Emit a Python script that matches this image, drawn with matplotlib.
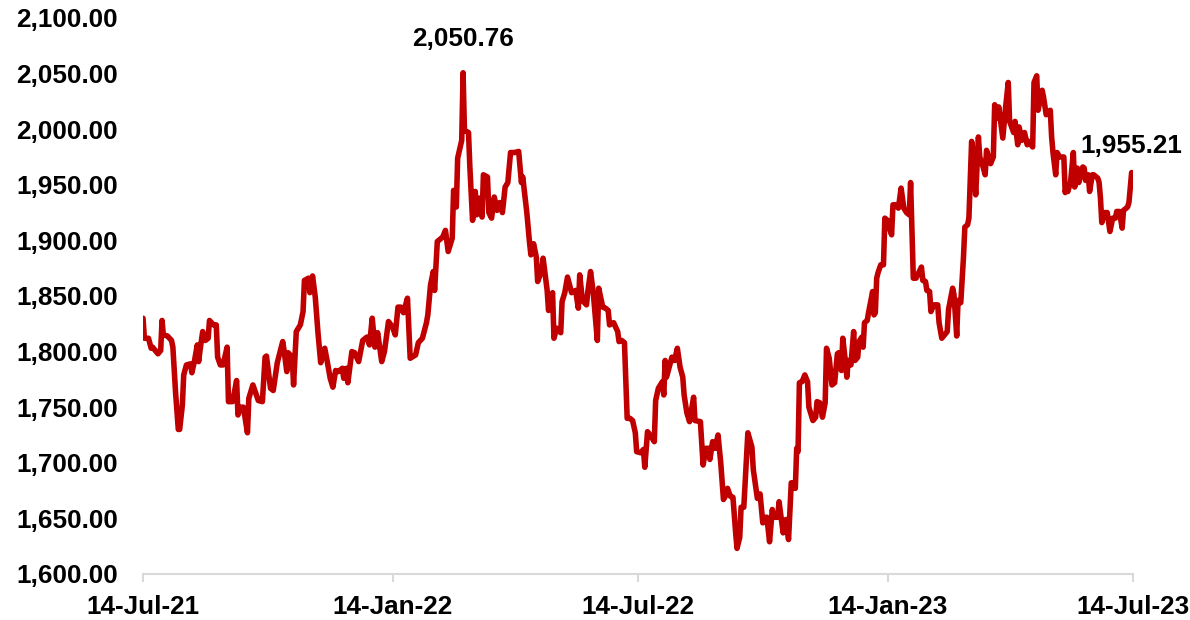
import numpy as np
import matplotlib.pyplot as plt
import matplotlib.dates as mdates

plt.rcParams['font.family'] = ['Liberation Sans', 'DejaVu Sans']

START = np.datetime64('2021-07-14')

# days since 14-Jul-21 and the gold price (USD/oz) on that day
days = [
    0, 1, 4, 6, 7, 11, 13, 14, 15, 18, 21, 22, 24, 26, 27, 29, 30, 32, 35, 36,
    38, 40, 41, 42, 44, 46, 48, 49, 52, 54, 55, 57, 59, 62, 63, 66, 69, 70, 72, 74,
    77, 78, 81, 85, 88, 90, 91, 94, 96, 99, 103, 104, 106, 107, 110, 111, 113, 116, 118, 119,
    122, 123, 125, 127, 129, 131, 134, 136, 138, 140, 142, 144, 147, 148, 150, 151, 154, 156, 159, 162,
    165, 167, 169, 171, 173, 176, 178, 181, 184, 186, 188, 190, 192, 195, 197, 201, 203, 206, 209, 210,
    212, 214, 215, 217, 221, 223, 225, 228, 229, 231, 232, 235, 236, 237, 240, 241, 243, 245, 246, 248,
    250, 251, 254, 255, 257, 259, 261, 263, 265, 267, 269, 271, 274, 277, 279, 280, 283, 285, 286, 288,
    290, 291, 294, 295, 298, 299, 302, 303, 305, 308, 309, 311, 313, 316, 319, 321, 322, 324, 327, 328,
    330, 332, 335, 336, 339, 341, 343, 344, 347, 350, 351, 353, 355, 357, 359, 361, 363, 364, 367, 369,
    370, 372, 375, 377, 378, 380, 383, 384, 385, 386, 388, 390, 392, 394, 396, 398, 399, 401, 403, 406,
    407, 411, 413, 415, 417, 418, 420, 422, 424, 426, 428, 429, 431, 433, 435, 437, 438, 440, 441, 443,
    446, 449, 450, 453, 455, 457, 459, 460, 462, 464, 465, 468, 469, 471, 472, 474, 476, 478, 479, 481,
    482, 483, 484, 486, 488, 490, 491, 494, 496, 497, 499, 501, 503, 504, 506, 508, 510, 512, 513, 515,
    516, 518, 519, 520, 522, 524, 525, 527, 528, 530, 531, 532, 534, 535, 538, 539, 540, 541, 542, 544,
    546, 547, 549, 550, 552, 553, 555, 557, 559, 561, 563, 565, 566, 568, 570, 572, 574, 575, 577, 578,
    580, 581, 583, 586, 587, 589, 591, 593, 594, 597, 598, 600, 601, 603, 605, 606, 608, 609, 611, 612,
    614, 616, 617, 619, 621, 622, 625, 627, 628, 630, 631, 634, 636, 638, 639, 642, 643, 645, 646, 648,
    650, 652, 653, 656, 657, 659, 660, 662, 663, 664, 666, 667, 669, 670, 671, 673, 674, 676, 679, 680,
    681, 682, 684, 686, 687, 689, 690, 693, 694, 695, 697, 698, 700, 701, 704, 705, 706, 707, 709, 711,
    713, 715, 717, 718, 720, 722, 723, 726, 727, 729, 730,
]

price = [
    1830, 1812, 1812, 1803, 1804, 1798, 1801, 1828, 1815, 1814, 1810, 1804, 1763, 1730, 1730, 1752, 1779, 1788, 1789, 1781,
    1792, 1806, 1791, 1801, 1818, 1810, 1812, 1828, 1824, 1824, 1795, 1788, 1788, 1804, 1755, 1755, 1774, 1743, 1750, 1750,
    1727, 1758, 1770, 1756, 1755, 1795, 1796, 1767, 1765, 1790, 1809, 1801, 1782, 1799, 1795, 1770, 1818, 1824, 1836, 1864,
    1866, 1853, 1868, 1849, 1817, 1790, 1803, 1790, 1776, 1768, 1783, 1782, 1785, 1776, 1785, 1772, 1800, 1799, 1791, 1810,
    1813, 1806, 1830, 1804, 1817, 1791, 1800, 1827, 1822, 1815, 1840, 1840, 1835, 1848, 1794, 1797, 1808, 1812, 1826, 1833,
    1860, 1872, 1855, 1899, 1903, 1909, 1890, 1902, 1945, 1930, 1974, 1990, 2050.76, 1999, 1997, 1966, 1918, 1944, 1923, 1938,
    1921, 1959, 1957, 1925, 1920, 1939, 1927, 1934, 1925, 1948, 1952, 1979, 1979, 1980, 1952, 1957, 1925, 1898, 1887, 1897,
    1885, 1863, 1873, 1884, 1855, 1837, 1853, 1812, 1821, 1817, 1845, 1853, 1867, 1853, 1855, 1839, 1869, 1846, 1842, 1854,
    1872, 1853, 1810, 1857, 1840, 1839, 1837, 1824, 1826, 1818, 1809, 1810, 1808, 1740, 1740, 1738, 1727, 1710, 1709, 1712,
    1696, 1728, 1723, 1719, 1756, 1767, 1773, 1761, 1792, 1777, 1786, 1795, 1792, 1803, 1786, 1777, 1761, 1745, 1737, 1759,
    1738, 1737, 1698, 1713, 1713, 1703, 1719, 1713, 1725, 1700, 1667, 1669, 1677, 1670, 1669, 1637, 1623, 1633, 1660, 1660,
    1727, 1714, 1694, 1668, 1672, 1646, 1651, 1651, 1629, 1658, 1651, 1651, 1665, 1646, 1637, 1649, 1631, 1682, 1682, 1677,
    1713, 1710, 1772, 1773, 1779, 1773, 1750, 1738, 1741, 1755, 1754, 1741, 1754, 1803, 1794, 1770, 1772, 1798, 1799, 1783,
    1812, 1790, 1777, 1792, 1788, 1818, 1792, 1795, 1809, 1813, 1804, 1826, 1828, 1835, 1854, 1833, 1835, 1866, 1871, 1878,
    1878, 1920, 1918, 1912, 1905, 1932, 1932, 1929, 1947, 1929, 1925, 1923, 1952, 1866, 1866, 1871, 1876, 1864, 1863, 1855,
    1854, 1836, 1842, 1842, 1826, 1812, 1815, 1818, 1838, 1857, 1851, 1814, 1846, 1844, 1885, 1912, 1914, 1920, 1989, 1981,
    1941, 1993, 1975, 1968, 1959, 1981, 1969, 1975, 2022, 2010, 2020, 1992, 2019, 2042, 2007, 1997, 2007, 1986, 2002, 1990,
    1997, 1986, 1989, 1984, 2042, 2048, 2017, 2029, 2035, 2029, 2013, 2015, 2017, 1993, 1979, 1959, 1979, 1975, 1975, 1943,
    1950, 1944, 1953, 1979, 1948, 1965, 1952, 1966, 1965, 1954, 1959, 1944, 1959, 1959, 1956, 1952, 1938, 1916, 1925, 1925,
    1908, 1920, 1920, 1926, 1926, 1911, 1927, 1930, 1934, 1961, 1955.21,
]

tick_dates = ['2021-07-14', '2022-01-14', '2022-07-14', '2023-01-14', '2023-07-14']
y_ticks = list(range(1600, 2101, 50))

dates = START + np.array(days, dtype='timedelta64[D]')
price = np.array(price, dtype=float)

fig = plt.figure(figsize=(11.9, 6.2), dpi=100)
ax = fig.add_axes([0.1202, 0.0742, 0.8319, 0.8968])

ax.plot(dates, price, color='#C00000', linewidth=4.0, solid_joinstyle='round',
        solid_capstyle='round')

ax.set_xlim(np.datetime64(tick_dates[0]), np.datetime64(tick_dates[-1]))
ax.set_ylim(y_ticks[0], y_ticks[-1])

ax.set_xticks([np.datetime64(d) for d in tick_dates])
ax.xaxis.set_major_formatter(mdates.DateFormatter('%d-%b-%y'))
ax.set_yticks(y_ticks)
ax.set_yticklabels([f'{v:,.2f}' for v in y_ticks])

for s in ['top', 'right', 'left']:
    ax.spines[s].set_visible(False)
ax.spines['bottom'].set_color('#d9d9d9')
ax.spines['bottom'].set_linewidth(1.5)

ax.tick_params(axis='x', direction='out', length=6, width=1.5, color='#d9d9d9',
               pad=9, labelsize=18.8)
ax.tick_params(axis='y', length=0, pad=18, labelsize=18.8)
for lbl in ax.get_xticklabels() + ax.get_yticklabels():
    lbl.set_fontweight('bold')

# label the peak and the latest close
i_max = int(np.argmax(price))
for i, dx in [(i_max, 0), (len(price) - 1, -1.5)]:
    ax.annotate(f'{price[i]:,.2f}', xy=(dates[i], price[i]), xytext=(dx, 24),
                textcoords='offset points', ha='center', va='center',
                fontsize=18.8, fontweight='bold', annotation_clip=False)

fig.savefig('out.png', dpi=100)
